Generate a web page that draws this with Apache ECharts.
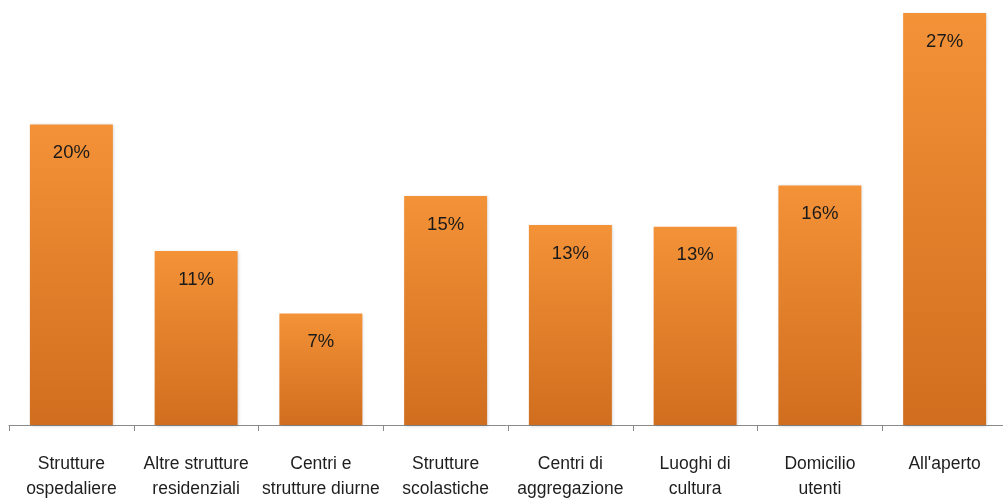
<!DOCTYPE html>
<html>
<head>
<meta charset="utf-8">
<script src="https://cdn.jsdelivr.net/npm/echarts@6/dist/echarts.min.js"></script>
<style>
  html, body { margin: 0; padding: 0; background: #fff; }
  #chart { width: 1003px; height: 499px; }
</style>
</head>
<body>
<div id="chart"></div>
<script>
// Luoghi: categories on the x axis (two-line labels)
const categories = [
  'Strutture\nospedaliere',
  'Altre strutture\nresidenziali',
  'Centri e\nstrutture diurne',
  'Strutture\nscolastiche',
  'Centri di\naggregazione',
  'Luoghi di\ncultura',
  'Domicilio\nutenti',
  "All'aperto"
];
// Share per place, in percent
const shares = [19.7, 11.4, 7.3, 15.0, 13.1, 13.0, 15.7, 27.0];

const chart = echarts.init(document.getElementById('chart'));
chart.setOption({
  animation: false,
  backgroundColor: '#ffffff',
  grid: {
    left: 9, top: 13, width: 998, height: 412,
    containLabel: false,
    outerBoundsMode: 'none'
  },
  xAxis: {
    type: 'category',
    data: categories,
    axisLine: { show: true, lineStyle: { color: '#8a8a8a', width: 1 } },
    axisTick: { show: true, length: 6, lineStyle: { color: '#8a8a8a' } },
    axisLabel: {
      color: '#1e1e1e',
      fontFamily: 'Liberation Sans, Arial, sans-serif',
      fontSize: 17.5,
      lineHeight: 25,
      margin: 27,
      interval: 0
    }
  },
  yAxis: {
    type: 'value',
    min: 0,
    max: 27,
    show: false,
    splitLine: { show: false }
  },
  series: [{
    type: 'bar',
    data: shares,
    barWidth: '66.5%',
    itemStyle: {
      color: new echarts.graphic.LinearGradient(0, 0, 0, 1, [
        { offset: 0, color: '#f39237' },
        { offset: 1, color: '#d06e1f' }
      ]),
      shadowColor: 'rgba(0,0,0,0.18)',
      shadowBlur: 3,
      shadowOffsetX: 1,
      shadowOffsetY: 1
    },
    label: {
      show: true,
      position: 'insideTop',
      distance: 19,
      color: '#1a1a1a',
      fontFamily: 'Liberation Sans, Arial, sans-serif',
      fontSize: 18.5,
      formatter: p => Math.round(p.value) + '%'
    }
  }]
});
</script>
</body>
</html>
